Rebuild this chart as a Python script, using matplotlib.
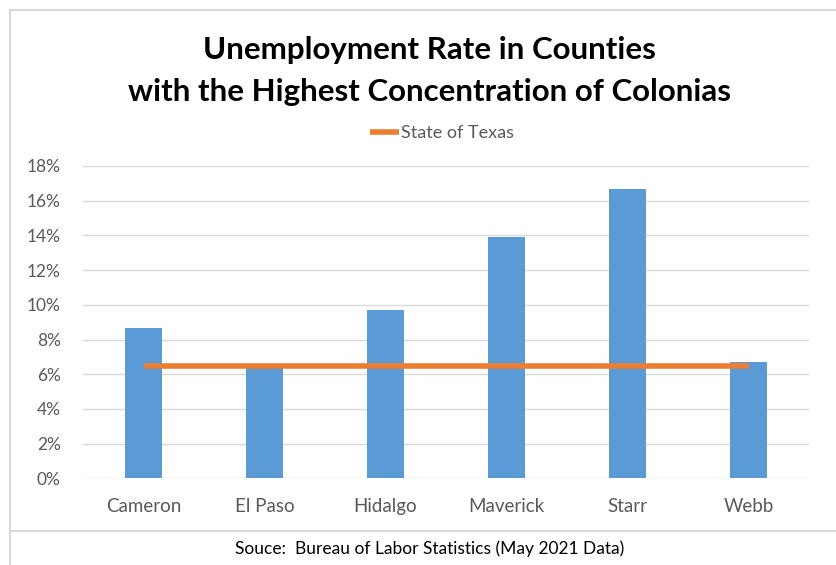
import numpy as np
import matplotlib.pyplot as plt
from matplotlib.lines import Line2D

counties = ['Cameron', 'El Paso', 'Hidalgo', 'Maverick', 'Starr', 'Webb']
rates = [8.65, 6.45, 9.7, 13.9, 16.65, 6.7]
texas = [6.5] * len(counties)
yticks = np.arange(0, 19, 2)

plt.rcParams['font.family'] = ['Lato', 'DejaVu Sans']

fig = plt.figure(figsize=(8.36, 5.65), dpi=100)
ax = fig.add_axes([83/836, 1-478.3/565, (809-83)/836, (478.3-166)/565])

x = np.arange(len(counties))
ax.bar(x, rates, width=0.31, color='#5B9BD5', zorder=2)
ax.plot(x, texas, color='#ED7D31', lw=4, solid_capstyle='butt', zorder=3, label='State of Texas')

ax.set_xlim(-0.5, len(counties)-0.5)
ax.set_ylim(0, 18)
ax.set_yticks(yticks)
ax.set_yticklabels(['%d%%' % t for t in yticks])
ax.set_xticks(x)
ax.set_xticklabels(counties)
ax.tick_params(axis='both', length=0, labelcolor='#595959')
ax.tick_params(axis='y', pad=16, labelsize=12.5)
ax.tick_params(axis='x', pad=14, labelsize=13.5)
ax.grid(axis='y', color='#d9d9d9', lw=1, zorder=0)
for s in ax.spines.values():
    s.set_visible(False)

fig.text(429/836, 1-50/565, 'Unemployment Rate in Counties', ha='center', va='center',
         fontsize=22.5, fontweight='bold', color='black')
fig.text(429/836, 1-92/565, 'with the Highest Concentration of Colonias', ha='center', va='center',
         fontsize=22.5, fontweight='bold', color='black')

leg = fig.legend(loc='center', bbox_to_anchor=(442/836, 1-133/565), frameon=False,
                 fontsize=13, handlelength=1.6, handletextpad=0.1)
for t in leg.get_texts():
    t.set_color('#595959')

fig.text(430/836, 1-549/565, 'Souce:  Bureau of Labor Statistics (May 2021 Data)', ha='center', va='center',
         fontsize=12.5, color='black')

# chart border lines
bc = '#d9d9d9'
fig.add_artist(Line2D([10/836, 1], [1-10/565, 1-10/565], color=bc, lw=1.5))
fig.add_artist(Line2D([10/836, 10/836], [0, 1-10/565], color=bc, lw=1.5))
fig.add_artist(Line2D([10/836, 1], [1-531/565, 1-531/565], color=bc, lw=1.5))

fig.savefig('out.png', dpi=100)
